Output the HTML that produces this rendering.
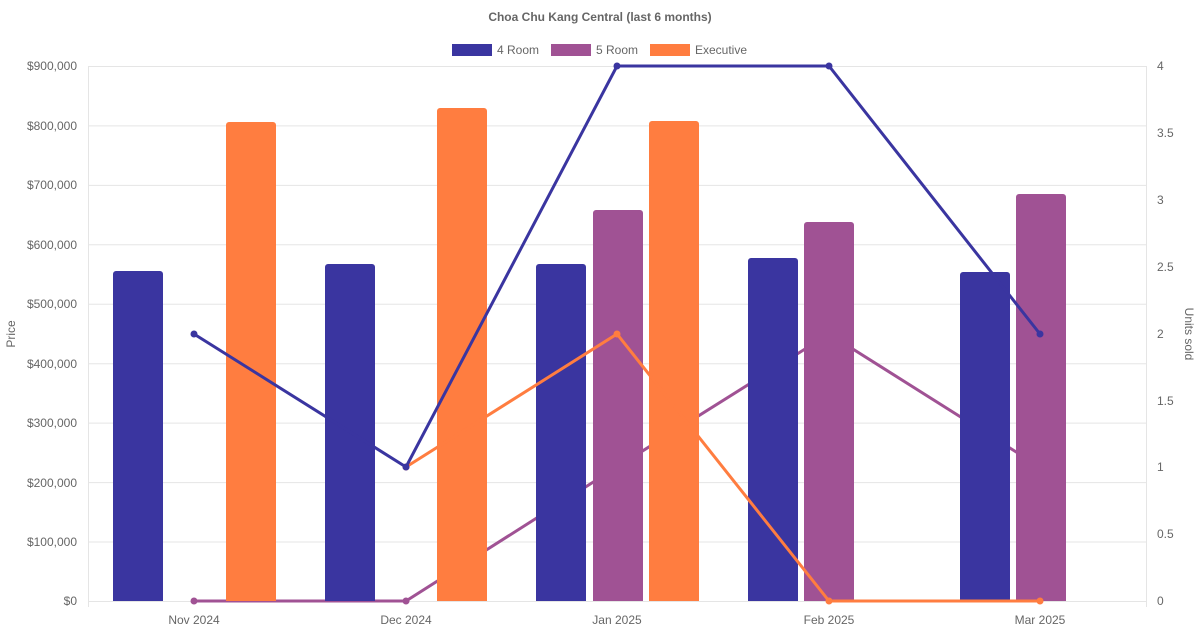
<!DOCTYPE html>
<html><head><meta charset="utf-8"><style>
html,body{margin:0;padding:0;background:#fff;}
svg{display:block;font-family:"Liberation Sans",Arial,sans-serif;}
</style></head><body>
<svg width="1200" height="630" viewBox="0 0 1200 630" xmlns="http://www.w3.org/2000/svg">
<text x="600" y="21" text-anchor="middle" font-size="12" font-weight="bold" fill="#666">Choa Chu Kang Central (last 6 months)</text>
<!-- legend -->
<rect x="452" y="44" width="40" height="12" fill="#3a35a0"/>
<text x="497" y="54" font-size="12" fill="#666">4 Room</text>
<rect x="551" y="44" width="40" height="12" fill="#a05294"/>
<text x="596" y="54" font-size="12" fill="#666">5 Room</text>
<rect x="650" y="44" width="40" height="12" fill="#ff7d40"/>
<text x="695" y="54" font-size="12" fill="#666">Executive</text>
<!-- grid -->
<g stroke="#e5e5e5" stroke-width="1">
<line x1="88" y1="66.5" x2="1146" y2="66.5"/>
<line x1="88" y1="125.9" x2="1146" y2="125.9"/>
<line x1="88" y1="185.4" x2="1146" y2="185.4"/>
<line x1="88" y1="244.8" x2="1146" y2="244.8"/>
<line x1="88" y1="304.2" x2="1146" y2="304.2"/>
<line x1="88" y1="363.7" x2="1146" y2="363.7"/>
<line x1="88" y1="423.1" x2="1146" y2="423.1"/>
<line x1="88" y1="482.6" x2="1146" y2="482.6"/>
<line x1="88" y1="542" x2="1146" y2="542"/>
<line x1="88" y1="601.5" x2="1146" y2="601.5"/>
<line x1="88.5" y1="66" x2="88.5" y2="607"/>
<line x1="1146.5" y1="66" x2="1146.5" y2="607"/>
</g>
<!-- left ticks -->
<g font-size="12" fill="#666" text-anchor="end">
<text x="77" y="70">$900,000</text>
<text x="77" y="130">$800,000</text>
<text x="77" y="189">$700,000</text>
<text x="77" y="249">$600,000</text>
<text x="77" y="308">$500,000</text>
<text x="77" y="368">$400,000</text>
<text x="77" y="427">$300,000</text>
<text x="77" y="487">$200,000</text>
<text x="77" y="546">$100,000</text>
<text x="77" y="605">$0</text>
</g>
<g font-size="12" fill="#666" text-anchor="start">
<text x="1157" y="70">4</text>
<text x="1157" y="137">3.5</text>
<text x="1157" y="204">3</text>
<text x="1157" y="271">2.5</text>
<text x="1157" y="338">2</text>
<text x="1157" y="405">1.5</text>
<text x="1157" y="471">1</text>
<text x="1157" y="538">0.5</text>
<text x="1157" y="605">0</text>
</g>
<g font-size="12" fill="#666" text-anchor="middle">
<text x="194" y="624">Nov 2024</text>
<text x="406" y="624">Dec 2024</text>
<text x="617" y="624">Jan 2025</text>
<text x="829" y="624">Feb 2025</text>
<text x="1040" y="624">Mar 2025</text>
</g>
<text transform="translate(15,334) rotate(-90)" font-size="12" fill="#666" text-anchor="middle">Price</text>
<text transform="translate(1185,334) rotate(90)" font-size="12" fill="#666" text-anchor="middle">Units sold</text>
<!-- 5R line (behind bars) -->
<polyline points="194,601 406,601 617,467 829,334 1040,467" fill="none" stroke="#a05294" stroke-width="3"/>
<g fill="#a05294"><circle cx="194" cy="601" r="3.5"/><circle cx="406" cy="601" r="3.5"/><circle cx="617" cy="467" r="3.5"/><circle cx="829" cy="334" r="3.5"/><circle cx="1040" cy="467" r="3.5"/></g>
<!-- bars -->
<g fill="#3a35a0">
<path d="M113,601V274a3,3 0 0 1 3,-3h44a3,3 0 0 1 3,3V601z"/>
<path d="M325,601V267a3,3 0 0 1 3,-3h44a3,3 0 0 1 3,3V601z"/>
<path d="M536,601V267a3,3 0 0 1 3,-3h44a3,3 0 0 1 3,3V601z"/>
<path d="M748,601V261a3,3 0 0 1 3,-3h44a3,3 0 0 1 3,3V601z"/>
<path d="M960,601V275a3,3 0 0 1 3,-3h44a3,3 0 0 1 3,3V601z"/>
</g>
<g fill="#a05294">
<path d="M593,601V213a3,3 0 0 1 3,-3h44a3,3 0 0 1 3,3V601z"/>
<path d="M804,601V225a3,3 0 0 1 3,-3h44a3,3 0 0 1 3,3V601z"/>
<path d="M1016,601V197a3,3 0 0 1 3,-3h44a3,3 0 0 1 3,3V601z"/>
</g>
<g fill="#ff7d40">
<path d="M226,601V125a3,3 0 0 1 3,-3h44a3,3 0 0 1 3,3V601z"/>
<path d="M437,601V111a3,3 0 0 1 3,-3h44a3,3 0 0 1 3,3V601z"/>
<path d="M649,601V124a3,3 0 0 1 3,-3h44a3,3 0 0 1 3,3V601z"/>
</g>
<!-- exec line -->
<polyline points="406,467 617,334 829,601 1040,601" fill="none" stroke="#ff7d40" stroke-width="3"/>
<g fill="#ff7d40"><circle cx="406" cy="467" r="3.5"/><circle cx="617" cy="334" r="3.5"/><circle cx="829" cy="601" r="3.5"/><circle cx="1040" cy="601" r="3.5"/></g>
<!-- 4R line -->
<polyline points="194,334 406,467 617,66 829,66 1040,334" fill="none" stroke="#3a35a0" stroke-width="3"/>
<g fill="#3a35a0"><circle cx="194" cy="334" r="3.5"/><circle cx="406" cy="467" r="3.5"/><circle cx="617" cy="66" r="3.5"/><circle cx="829" cy="66" r="3.5"/><circle cx="1040" cy="334" r="3.5"/></g>
</svg>
</body></html>
